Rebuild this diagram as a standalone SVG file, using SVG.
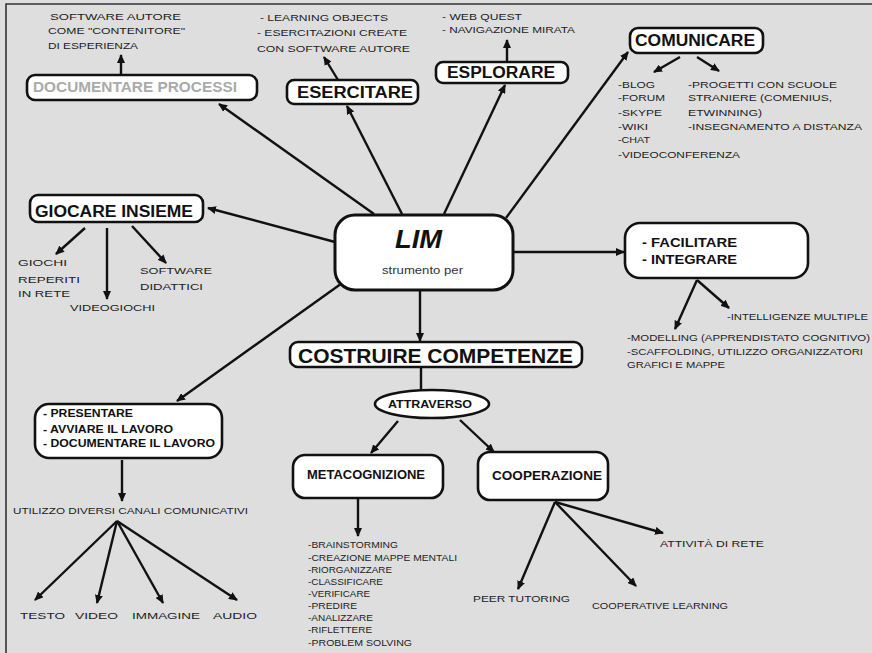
<svg xmlns="http://www.w3.org/2000/svg" width="872" height="653" viewBox="0 0 872 653">
<defs>
<marker id="ah" markerUnits="userSpaceOnUse" markerWidth="9" markerHeight="8" refX="8" refY="4" orient="auto">
<path d="M0,0 L9,4 L0,8 z" fill="#111"/>
</marker>
<style>
.box{fill:#fff;stroke:#111;stroke-width:2.6}
.c{fill:none;stroke:#111;stroke-width:2.4;marker-end:url(#ah)}
.cn{fill:none;stroke:#111;stroke-width:2.4}
.t{font-family:"Liberation Sans",Arial,sans-serif;font-weight:bold;fill:#111}
.s{font-family:"Liberation Sans",Arial,sans-serif;font-size:9.5px;fill:#222}
.m{font-family:"Liberation Sans",Arial,sans-serif;font-size:8.5px;fill:#222}
</style>
</defs>
<rect width="872" height="653" fill="#dedede"/>
<path d="M6,653 L6,4 L872,4" fill="none" stroke="#333" stroke-width="1.6"/>

<g id="connectors">
<path class="c" d="M374,214 L219,104"/>
<path class="c" d="M402,214 L347,106"/>
<path class="c" d="M444,214 L505,85"/>
<path class="c" d="M506,218 L628,52"/>
<path class="c" d="M335,242 L208,208"/>
<path class="c" d="M513,252 L624,252"/>
<path class="c" d="M420,290 L420,341"/>
<path class="c" d="M345,281 L177,401"/>
<path class="c" d="M121,75 L121,55"/>
<path class="c" d="M338,80 L324,57"/>
<path class="c" d="M507,62 L507,40"/>
<path class="c" d="M680,57 L654,72"/>
<path class="c" d="M697,57 L719,71"/>
<path class="c" d="M85,228 L56,254"/>
<path class="c" d="M107,228 L107,299"/>
<path class="c" d="M132,226 L166,263"/>
<path class="c" d="M697,280 L675,329"/>
<path class="c" d="M697,280 L729,308"/>
<path class="cn" d="M421,367 L421,390"/>
<path class="c" d="M398,421 L371,453"/>
<path class="c" d="M460,420 L494,452"/>
<path class="c" d="M358,499 L358,536"/>
<path class="c" d="M122,460 L122,501"/>
<path class="c" d="M117,521 L35,600"/>
<path class="c" d="M117,521 L97,603"/>
<path class="c" d="M117,521 L163,603"/>
<path class="c" d="M117,521 L237,600"/>
<path class="c" d="M555,502 L518,589"/>
<path class="c" d="M555,502 L636,586"/>
<path class="c" d="M555,502 L663,533"/>
</g>

<g id="documentare">
<rect class="box" x="27" y="75" width="230" height="25" rx="8"/>
<text class="t" x="33" y="92" font-size="14" fill="#aaa" style="fill:#aaa" textLength="204" lengthAdjust="spacingAndGlyphs">DOCUMENTARE PROCESSI</text>
<text class="s" x="50" y="20" textLength="131" lengthAdjust="spacingAndGlyphs">SOFTWARE  AUTORE</text>
<text class="s" x="48" y="34" textLength="137" lengthAdjust="spacingAndGlyphs">COME "CONTENITORE"</text>
<text class="s" x="48" y="49" textLength="90" lengthAdjust="spacingAndGlyphs">DI ESPERIENZA</text>
</g>

<g id="esercitare">
<rect class="box" x="287" y="80" width="131" height="24" rx="7"/>
<text class="t" x="297" y="98" font-size="16" textLength="116" lengthAdjust="spacingAndGlyphs">ESERCITARE</text>
<text class="s" x="260" y="21" textLength="128" lengthAdjust="spacingAndGlyphs">- LEARNING OBJECTS</text>
<text class="s" x="257" y="36" textLength="150" lengthAdjust="spacingAndGlyphs">- ESERCITAZIONI CREATE</text>
<text class="s" x="257" y="52" textLength="153" lengthAdjust="spacingAndGlyphs">CON SOFTWARE  AUTORE</text>
</g>

<g id="esplorare">
<rect class="box" x="436" y="62" width="132" height="21" rx="7"/>
<text class="t" x="447" y="78" font-size="16" textLength="108" lengthAdjust="spacingAndGlyphs">ESPLORARE</text>
<text class="s" x="442" y="20" textLength="80" lengthAdjust="spacingAndGlyphs">- WEB QUEST</text>
<text class="s" x="442" y="33" textLength="133" lengthAdjust="spacingAndGlyphs">- NAVIGAZIONE MIRATA</text>
</g>

<g id="comunicare">
<rect class="box" x="630" y="28" width="133" height="25" rx="8"/>
<text class="t" x="635" y="46" font-size="16" textLength="120" lengthAdjust="spacingAndGlyphs">COMUNICARE</text>
<text class="s" x="618" y="88" textLength="37" lengthAdjust="spacingAndGlyphs">-BLOG</text>
<text class="s" x="618" y="101" textLength="47" lengthAdjust="spacingAndGlyphs">-FORUM</text>
<text class="s" x="618" y="116" textLength="44" lengthAdjust="spacingAndGlyphs">-SKYPE</text>
<text class="s" x="618" y="130" textLength="30" lengthAdjust="spacingAndGlyphs">-WIKI</text>
<text class="s" x="618" y="143" textLength="32" lengthAdjust="spacingAndGlyphs">-CHAT</text>
<text class="s" x="618" y="158" textLength="122" lengthAdjust="spacingAndGlyphs">-VIDEOCONFERENZA</text>
<text class="s" x="688" y="88" textLength="149" lengthAdjust="spacingAndGlyphs">-PROGETTI CON SCUOLE</text>
<text class="s" x="688" y="101" textLength="144" lengthAdjust="spacingAndGlyphs">STRANIERE (COMENIUS,</text>
<text class="s" x="688" y="116" textLength="74" lengthAdjust="spacingAndGlyphs">ETWINNING)</text>
<text class="s" x="688" y="130" textLength="174" lengthAdjust="spacingAndGlyphs">-INSEGNAMENTO A DISTANZA</text>
</g>

<g id="giocare">
<rect class="box" x="30" y="195" width="173" height="27" rx="8"/>
<text class="t" x="35" y="217" font-size="16" textLength="158" lengthAdjust="spacingAndGlyphs">GIOCARE INSIEME</text>
<text class="s" x="18" y="266" textLength="49" lengthAdjust="spacingAndGlyphs">GIOCHI</text>
<text class="s" x="18" y="283" textLength="62" lengthAdjust="spacingAndGlyphs">REPERITI</text>
<text class="s" x="18" y="297" textLength="52" lengthAdjust="spacingAndGlyphs">IN RETE</text>
<text class="s" x="70" y="311" textLength="85" lengthAdjust="spacingAndGlyphs">VIDEOGIOCHI</text>
<text class="s" x="140" y="274" textLength="72" lengthAdjust="spacingAndGlyphs">SOFTWARE</text>
<text class="s" x="140" y="290" textLength="63" lengthAdjust="spacingAndGlyphs">DIDATTICI</text>
</g>

<g id="lim">
<rect class="box" x="335" y="215" width="178" height="75" rx="20" style="stroke-width:3"/>
<text class="t" x="395" y="248" font-size="25" font-style="italic" textLength="47" lengthAdjust="spacingAndGlyphs">LIM</text>
<text x="382" y="274" font-family="Liberation Sans, Arial, sans-serif" font-size="10.5" fill="#333" textLength="81" lengthAdjust="spacingAndGlyphs">strumento per</text>
</g>

<g id="facilitare">
<rect class="box" x="625" y="223" width="183" height="55" rx="15"/>
<text class="t" x="642" y="247" font-size="12" textLength="95" lengthAdjust="spacingAndGlyphs">- FACILITARE</text>
<text class="t" x="642" y="264" font-size="12" textLength="95" lengthAdjust="spacingAndGlyphs">- INTEGRARE</text>
<text class="m" x="727" y="320" textLength="141" lengthAdjust="spacingAndGlyphs">-INTELLIGENZE MULTIPLE</text>
<text class="m" x="627" y="341" textLength="243" lengthAdjust="spacingAndGlyphs">-MODELLING (APPRENDISTATO COGNITIVO)</text>
<text class="m" x="627" y="355" textLength="236" lengthAdjust="spacingAndGlyphs">-SCAFFOLDING, UTILIZZO ORGANIZZATORI</text>
<text class="m" x="627" y="368" textLength="98" lengthAdjust="spacingAndGlyphs">GRAFICI E MAPPE</text>
</g>

<g id="costruire">
<rect class="box" x="290" y="342" width="292" height="25" rx="8"/>
<text class="t" x="298" y="363" font-size="20" textLength="275" lengthAdjust="spacingAndGlyphs">COSTRUIRE COMPETENZE</text>
</g>

<g id="attraverso">
<ellipse class="box" cx="432" cy="404" rx="57" ry="14"/>
<text class="t" x="388" y="408" font-size="10" textLength="84" lengthAdjust="spacingAndGlyphs">ATTRAVERSO</text>
</g>

<g id="metacognizione">
<rect class="box" x="293" y="455" width="150" height="43" rx="12"/>
<text class="t" x="307" y="479" font-size="12" textLength="118" lengthAdjust="spacingAndGlyphs">METACOGNIZIONE</text>
<text class="m" x="308" y="548" textLength="90" lengthAdjust="spacingAndGlyphs">-BRAINSTORMING</text>
<text class="m" x="308" y="561" textLength="149" lengthAdjust="spacingAndGlyphs">-CREAZIONE MAPPE MENTALI</text>
<text class="m" x="308" y="573" textLength="84" lengthAdjust="spacingAndGlyphs">-RIORGANIZZARE</text>
<text class="m" x="308" y="585" textLength="75" lengthAdjust="spacingAndGlyphs">-CLASSIFICARE</text>
<text class="m" x="308" y="597" textLength="62" lengthAdjust="spacingAndGlyphs">-VERIFICARE</text>
<text class="m" x="308" y="609" textLength="49" lengthAdjust="spacingAndGlyphs">-PREDIRE</text>
<text class="m" x="308" y="621" textLength="65" lengthAdjust="spacingAndGlyphs">-ANALIZZARE</text>
<text class="m" x="308" y="633" textLength="64" lengthAdjust="spacingAndGlyphs">-RIFLETTERE</text>
<text class="m" x="308" y="646" textLength="104" lengthAdjust="spacingAndGlyphs">-PROBLEM SOLVING</text>
</g>

<g id="cooperazione">
<rect class="box" x="478" y="452" width="130" height="48" rx="12"/>
<text class="t" x="492" y="480" font-size="12" textLength="110" lengthAdjust="spacingAndGlyphs">COOPERAZIONE</text>
<text class="s" x="473" y="602" textLength="97" lengthAdjust="spacingAndGlyphs">PEER TUTORING</text>
<text class="s" x="592" y="609" textLength="136" lengthAdjust="spacingAndGlyphs">COOPERATIVE LEARNING</text>
<text class="s" x="660" y="547" textLength="104" lengthAdjust="spacingAndGlyphs">ATTIVITÀ  DI RETE</text>
</g>

<g id="presentare">
<rect class="box" x="35" y="404" width="187" height="54" rx="14"/>
<text class="t" x="43" y="417" font-size="11" textLength="90" lengthAdjust="spacingAndGlyphs">- PRESENTARE</text>
<text class="t" x="43" y="433" font-size="11" textLength="130" lengthAdjust="spacingAndGlyphs">- AVVIARE IL LAVORO</text>
<text class="t" x="43" y="447" font-size="11" textLength="172" lengthAdjust="spacingAndGlyphs">- DOCUMENTARE IL LAVORO</text>
<text class="m" x="13" y="514" textLength="235" lengthAdjust="spacingAndGlyphs">UTILIZZO DIVERSI CANALI COMUNICATIVI</text>
<text class="s" x="20" y="619" textLength="45" lengthAdjust="spacingAndGlyphs">TESTO</text>
<text class="s" x="75" y="619" textLength="43" lengthAdjust="spacingAndGlyphs">VIDEO</text>
<text class="s" x="132" y="619" textLength="68" lengthAdjust="spacingAndGlyphs">IMMAGINE</text>
<text class="s" x="213" y="619" textLength="44" lengthAdjust="spacingAndGlyphs">AUDIO</text>
</g>
</svg>
